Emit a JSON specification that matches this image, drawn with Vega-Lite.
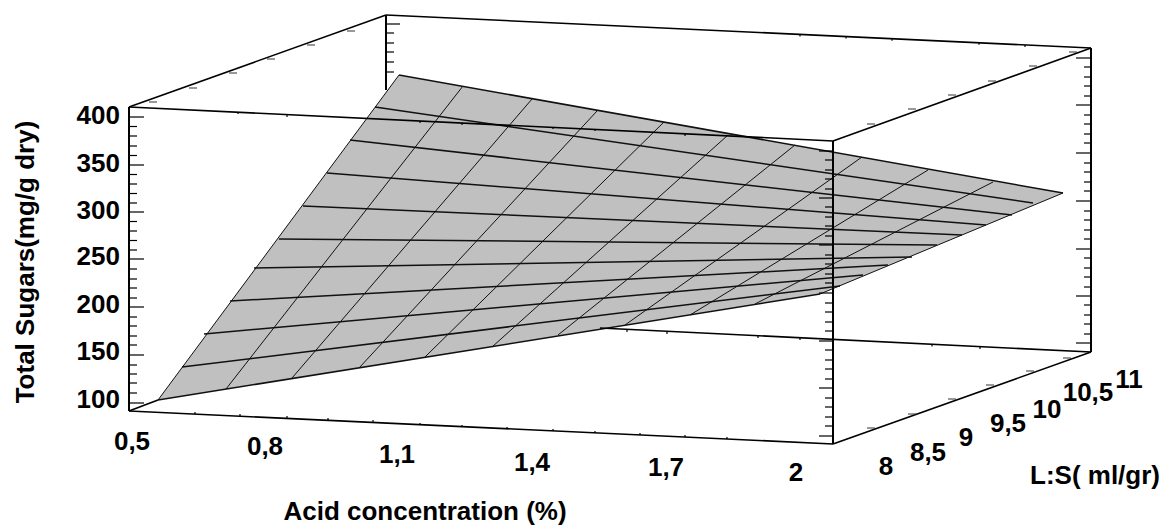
{"$schema":"https://vega.github.io/schema/vega-lite/v6.json","width":1161,"height":525,"padding":0,"autosize":{"type":"fit","contains":"padding"},"background":"white","config":{"view":{"stroke":null}},
"datasets":{
"surface":[{"sx":158,"top":400,"bottom":400},{"sx":399,"top":75,"bottom":361.5},{"sx":820,"top":149.8,"bottom":294},{"sx":1063,"top":193,"bottom":193}],
"meshRows":[
{"a":158,"b":400,"c":820,"d":294},{"a":182,"b":367,"c":840,"d":286},{"a":204,"b":334,"c":863,"d":275},{"a":230,"b":301,"c":888,"d":265},{"a":254,"b":268,"c":912,"d":257},{"a":279,"b":239,"c":937,"d":245},{"a":303,"b":206,"c":962,"d":235},{"a":327,"b":173,"c":986,"d":225},{"a":350,"b":140,"c":1012,"d":215},{"a":375,"b":107,"c":1033,"d":203},{"a":399,"b":75,"c":1063,"d":193}],
"meshCols":[
{"a":158,"b":400,"c":399,"d":75},{"a":226,"b":389,"c":463,"d":86},{"a":292,"b":378,"c":532,"d":99},{"a":359,"b":368,"c":597,"d":111},{"a":425,"b":357,"c":664,"d":122},{"a":492,"b":347,"c":728,"d":135},{"a":558,"b":335,"c":795,"d":145},{"a":625,"b":325,"c":862,"d":157},{"a":690,"b":315,"c":928,"d":170},{"a":755,"b":304,"c":993,"d":182},{"a":820,"b":294,"c":1063,"d":193}],
"posts":[{"a":129,"b":107,"c":129,"d":411},{"a":833,"b":141,"c":833,"d":444},{"a":1091,"b":48,"c":1091,"d":352},{"a":386,"b":15,"c":386,"d":90}],
"edges":[{"a":129,"b":107,"c":386,"d":15},{"a":386,"b":15,"c":1091,"d":48},{"a":1091,"b":48,"c":833,"d":141},{"a":833,"b":141,"c":129,"d":107},{"a":129,"b":411,"c":833,"d":444},{"a":833,"b":444,"c":1091,"d":352},{"a":1091,"b":352,"c":600,"d":328},{"a":129,"b":411,"c":158,"d":400}],
"ticks":[
{"a":129,"b":117,"c":144,"d":117},{"a":129,"b":165,"c":144,"d":165},{"a":129,"b":212,"c":144,"d":212},{"a":129,"b":259,"c":144,"d":259},{"a":129,"b":307,"c":144,"d":307},{"a":129,"b":355,"c":144,"d":355},{"a":129,"b":403,"c":144,"d":403},
{"a":129,"b":126.5,"c":137,"d":126.5},{"a":129,"b":136,"c":137,"d":136},{"a":129,"b":146,"c":137,"d":146},{"a":129,"b":155.5,"c":137,"d":155.5},{"a":129,"b":174.5,"c":137,"d":174.5},{"a":129,"b":184,"c":137,"d":184},{"a":129,"b":193.5,"c":137,"d":193.5},{"a":129,"b":203,"c":137,"d":203},{"a":129,"b":221.5,"c":137,"d":221.5},{"a":129,"b":231,"c":137,"d":231},{"a":129,"b":240.5,"c":137,"d":240.5},{"a":129,"b":250,"c":137,"d":250},{"a":129,"b":269,"c":137,"d":269},{"a":129,"b":279,"c":137,"d":279},{"a":129,"b":288,"c":137,"d":288},{"a":129,"b":298,"c":137,"d":298},{"a":129,"b":317,"c":137,"d":317},{"a":129,"b":326,"c":137,"d":326},{"a":129,"b":336,"c":137,"d":336},{"a":129,"b":345,"c":137,"d":345},{"a":129,"b":365,"c":137,"d":365},{"a":129,"b":374,"c":137,"d":374},{"a":129,"b":383,"c":137,"d":383},{"a":129,"b":393,"c":137,"d":393},
{"a":1076,"b":58,"c":1091,"d":58},{"a":1076,"b":105,"c":1091,"d":105},{"a":1076,"b":153,"c":1091,"d":153},{"a":1076,"b":201,"c":1091,"d":201},{"a":1076,"b":249,"c":1091,"d":249},{"a":1076,"b":296,"c":1091,"d":296},{"a":1076,"b":343,"c":1091,"d":343},
{"a":1084,"b":67,"c":1091,"d":67},{"a":1084,"b":77,"c":1091,"d":77},{"a":1084,"b":86,"c":1091,"d":86},{"a":1084,"b":96,"c":1091,"d":96},{"a":1084,"b":115,"c":1091,"d":115},{"a":1084,"b":124,"c":1091,"d":124},{"a":1084,"b":134,"c":1091,"d":134},{"a":1084,"b":143,"c":1091,"d":143},{"a":1084,"b":163,"c":1091,"d":163},{"a":1084,"b":172,"c":1091,"d":172},{"a":1084,"b":182,"c":1091,"d":182},{"a":1084,"b":191,"c":1091,"d":191},{"a":1084,"b":211,"c":1091,"d":211},{"a":1084,"b":220,"c":1091,"d":220},{"a":1084,"b":230,"c":1091,"d":230},{"a":1084,"b":239,"c":1091,"d":239},{"a":1084,"b":258,"c":1091,"d":258},{"a":1084,"b":268,"c":1091,"d":268},{"a":1084,"b":277,"c":1091,"d":277},{"a":1084,"b":287,"c":1091,"d":287},{"a":1084,"b":305,"c":1091,"d":305},{"a":1084,"b":315,"c":1091,"d":315},{"a":1084,"b":324,"c":1091,"d":324},{"a":1084,"b":334,"c":1091,"d":334},
{"a":819,"b":151,"c":833,"d":151},{"a":819,"b":198,"c":833,"d":198},{"a":819,"b":245,"c":833,"d":245},{"a":819,"b":293,"c":833,"d":293},{"a":819,"b":341,"c":833,"d":341},{"a":819,"b":388,"c":833,"d":388},{"a":819,"b":436,"c":833,"d":436},
{"a":825,"b":160,"c":833,"d":160},{"a":825,"b":170,"c":833,"d":170},{"a":825,"b":179,"c":833,"d":179},{"a":825,"b":189,"c":833,"d":189},{"a":825,"b":207,"c":833,"d":207},{"a":825,"b":217,"c":833,"d":217},{"a":825,"b":226,"c":833,"d":226},{"a":825,"b":236,"c":833,"d":236},{"a":825,"b":255,"c":833,"d":255},{"a":825,"b":264,"c":833,"d":264},{"a":825,"b":274,"c":833,"d":274},{"a":825,"b":283,"c":833,"d":283},{"a":825,"b":303,"c":833,"d":303},{"a":825,"b":312,"c":833,"d":312},{"a":825,"b":322,"c":833,"d":322},{"a":825,"b":331,"c":833,"d":331},{"a":825,"b":350,"c":833,"d":350},{"a":825,"b":360,"c":833,"d":360},{"a":825,"b":369,"c":833,"d":369},{"a":825,"b":379,"c":833,"d":379},{"a":825,"b":398,"c":833,"d":398},{"a":825,"b":407,"c":833,"d":407},{"a":825,"b":417,"c":833,"d":417},{"a":825,"b":426,"c":833,"d":426},
{"a":386,"b":24,"c":400,"d":24},{"a":386,"b":33,"c":394,"d":33},{"a":386,"b":43,"c":394,"d":43},{"a":386,"b":52,"c":394,"d":52},{"a":386,"b":62,"c":394,"d":62},{"a":386,"b":72,"c":394,"d":72},
{"a":195,"b":414,"c":195,"d":412},{"a":240,"b":416,"c":240,"d":414},{"a":287,"b":418,"c":287,"d":416},{"a":328,"b":420,"c":328,"d":418},{"a":373,"b":422,"c":373,"d":420},{"a":420,"b":425,"c":420,"d":423},{"a":462,"b":427,"c":462,"d":425},{"a":507,"b":429,"c":507,"d":427},{"a":553,"b":431,"c":553,"d":429},{"a":595,"b":433,"c":595,"d":431},{"a":640,"b":435,"c":640,"d":433},{"a":685,"b":437,"c":685,"d":435},{"a":727,"b":439,"c":727,"d":437},
{"a":238,"b":112,"c":238,"d":114},{"a":287,"b":115,"c":287,"d":117},{"a":420,"b":121,"c":420,"d":123},{"a":462,"b":123,"c":462,"d":125},{"a":510,"b":125,"c":510,"d":127},{"a":553,"b":127,"c":553,"d":129},{"a":595,"b":129,"c":595,"d":131},{"a":685,"b":134,"c":685,"d":136},
{"a":800,"b":34.4,"c":800,"d":36.4},{"a":846,"b":36.5,"c":846,"d":38.5},{"a":892,"b":38.7,"c":892,"d":40.7},{"a":979,"b":42.8,"c":979,"d":44.8},{"a":1025,"b":45,"c":1025,"d":47},
{"a":627,"b":330,"c":627,"d":332},{"a":667,"b":332,"c":667,"d":334},{"a":758,"b":336,"c":758,"d":338},{"a":800,"b":338,"c":800,"d":340},{"a":932,"b":344.5,"c":932,"d":346.5},{"a":980,"b":347,"c":980,"d":349}],
"dashes":[
{"a":867,"b":124,"c":875,"d":124},{"a":908,"b":109,"c":916,"d":109},{"a":948,"b":95,"c":956,"d":95},{"a":988,"b":81,"c":996,"d":81},{"a":1029,"b":66,"c":1037,"d":66},{"a":1069,"b":52,"c":1077,"d":52},
{"a":867,"b":428,"c":875,"d":428},{"a":908,"b":414,"c":916,"d":414},{"a":948,"b":399,"c":956,"d":399},{"a":986,"b":385,"c":994,"d":385},{"a":1026,"b":371,"c":1034,"d":371},{"a":1063,"b":358,"c":1071,"d":358},
{"a":149,"b":102,"c":157,"d":102},{"a":189,"b":88,"c":197,"d":88},{"a":229,"b":73,"c":237,"d":73},{"a":267,"b":59,"c":275,"d":59},{"a":307,"b":45,"c":315,"d":45},{"a":347,"b":31,"c":355,"d":31}],
"valueLabels":[{"t":"400","sx":120,"sy":116},{"t":"350","sx":120,"sy":164},{"t":"300","sx":120,"sy":211},{"t":"250","sx":120,"sy":257},{"t":"200","sx":120,"sy":305},{"t":"150","sx":120,"sy":352},{"t":"100","sx":120,"sy":400}],
"otherLabels":[{"t":"0,5","sx":132,"sy":442},{"t":"0,8","sx":265,"sy":447},{"t":"1,1","sx":397,"sy":455},{"t":"1,4","sx":532,"sy":463},{"t":"1,7","sx":666,"sy":468},{"t":"2","sx":796,"sy":473},{"t":"8","sx":886,"sy":467},{"t":"8,5","sx":928,"sy":453},{"t":"9","sx":966,"sy":438},{"t":"9,5","sx":1008,"sy":424},{"t":"10","sx":1047,"sy":410},{"t":"10,5","sx":1088,"sy":393},{"t":"11","sx":1129,"sy":380},{"t":"L:S( ml/gr)","sx":1095,"sy":476},{"t":"Acid concentration (%)","sx":425,"sy":512}],
"zLabel":[{"t":"Total Sugars(mg/g dry)","sx":26,"sy":262}]
},
"layer":[
{"data":{"name":"surface"},"mark":{"type":"area","color":"#c0c0c0","clip":false},"encoding":{"x":{"field":"sx","type":"quantitative","scale":{"domain":[0,1161],"nice":false,"zero":false},"axis":null},"y":{"field":"top","type":"quantitative","scale":{"domain":[525,0],"nice":false,"zero":false},"axis":null},"y2":{"field":"bottom"}}},
{"data":{"name":"meshCols"},"mark":{"type":"rule","color":"#111111","strokeWidth":1},"encoding":{"x":{"field":"a","type":"quantitative"},"y":{"field":"b","type":"quantitative"},"x2":{"field":"c"},"y2":{"field":"d"}}},
{"data":{"name":"meshRows"},"mark":{"type":"rule","color":"#111111","strokeWidth":1.5},"encoding":{"x":{"field":"a","type":"quantitative"},"y":{"field":"b","type":"quantitative"},"x2":{"field":"c"},"y2":{"field":"d"}}},
{"data":{"name":"edges"},"mark":{"type":"rule","color":"#000000","strokeWidth":1.6},"encoding":{"x":{"field":"a","type":"quantitative"},"y":{"field":"b","type":"quantitative"},"x2":{"field":"c"},"y2":{"field":"d"}}},
{"data":{"name":"posts"},"mark":{"type":"rule","color":"#000000","strokeWidth":2},"encoding":{"x":{"field":"a","type":"quantitative"},"y":{"field":"b","type":"quantitative"},"x2":{"field":"c"},"y2":{"field":"d"}}},
{"data":{"name":"ticks"},"mark":{"type":"rule","color":"#000000","strokeWidth":1.2},"encoding":{"x":{"field":"a","type":"quantitative"},"y":{"field":"b","type":"quantitative"},"x2":{"field":"c"},"y2":{"field":"d"}}},
{"data":{"name":"dashes"},"mark":{"type":"rule","color":"#333333","strokeWidth":1},"encoding":{"x":{"field":"a","type":"quantitative"},"y":{"field":"b","type":"quantitative"},"x2":{"field":"c"},"y2":{"field":"d"}}},
{"data":{"name":"valueLabels"},"mark":{"type":"text","font":"Liberation Sans","fontWeight":"bold","fontSize":26,"align":"right","baseline":"middle","color":"#000000"},"encoding":{"x":{"field":"sx","type":"quantitative"},"y":{"field":"sy","type":"quantitative"},"text":{"field":"t"}}},
{"data":{"name":"otherLabels"},"mark":{"type":"text","font":"Liberation Sans","fontWeight":"bold","fontSize":26,"align":"center","baseline":"middle","color":"#000000"},"encoding":{"x":{"field":"sx","type":"quantitative"},"y":{"field":"sy","type":"quantitative"},"text":{"field":"t"}}},
{"data":{"name":"zLabel"},"mark":{"type":"text","font":"Liberation Sans","fontWeight":"bold","fontSize":26,"align":"center","baseline":"middle","angle":270,"color":"#000000"},"encoding":{"x":{"field":"sx","type":"quantitative"},"y":{"field":"sy","type":"quantitative"},"text":{"field":"t"}}}
]}
